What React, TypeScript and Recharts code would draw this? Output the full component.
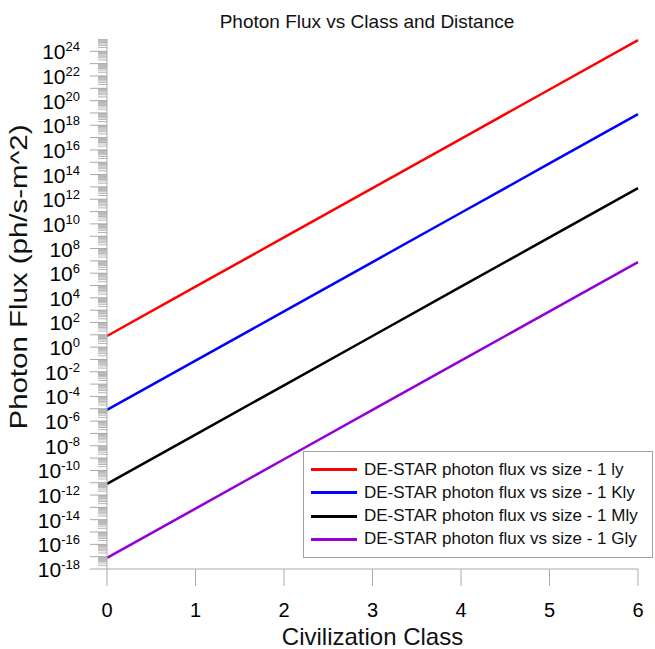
import React from 'react';
import { LineChart, Line, XAxis, YAxis, Legend } from 'recharts';

// ---- data ----
const classes = [0, 1, 2, 3, 4, 5, 6];
const flux1ly = [8e0, 8e4, 8e8, 8e12, 8e16, 8e20, 8e24];
const flux1Kly = [8e-6, 8e-2, 8e2, 8e6, 8e10, 8e14, 8e18];
const flux1Mly = [8e-12, 8e-8, 8e-4, 8e0, 8e4, 8e8, 8e12];
const flux1Gly = [8e-18, 8e-14, 8e-10, 8e-6, 8e-2, 8e2, 8e6];

const seriesKeys = ['ly', 'Kly', 'Mly', 'Gly'];
const seriesNames = [
  'DE-STAR photon flux vs size - 1 ly',
  'DE-STAR photon flux vs size - 1 Kly',
  'DE-STAR photon flux vs size - 1 Mly',
  'DE-STAR photon flux vs size - 1 Gly',
];
const seriesColors = ['#ff0000', '#0000ff', '#000000', '#9400d3'];

const labeledExponents = [-18, -16, -14, -12, -10, -8, -6, -4, -2, 0, 2, 4, 6, 8, 10, 12, 14, 16, 18, 20, 22, 24];
const decadeExponents = [-18, -17, -16, -15, -14, -13, -12, -11, -10, -9, -8, -7, -6, -5, -4, -3, -2, -1, 0, 1, 2, 3, 4, 5, 6, 7, 8, 9, 10, 11, 12, 13, 14, 15, 16, 17, 18, 19, 20, 21, 22, 23, 24];
const minorMultipliers = [2, 3, 4, 5, 6, 7, 8, 9];
const xTicks = [0, 1, 2, 3, 4, 5, 6];
const yDomain = [1e-18, 1e25];

const FONT = '"Liberation Sans", Arial, sans-serif';

const tableData = classes.map((c, i) => ({
  cls: c,
  ly: flux1ly[i],
  Kly: flux1Kly[i],
  Mly: flux1Mly[i],
  Gly: flux1Gly[i],
}));

type TickInfo = { kind: 'major' | 'minor'; exp: number; label: boolean };
const tickInfo = new Map<number, TickInfo>();
const yTicks: number[] = [];
decadeExponents.forEach((k) => {
  const v = Number(`1e${k}`);
  yTicks.push(v);
  tickInfo.set(v, { kind: 'major', exp: k, label: labeledExponents.includes(k) });
  minorMultipliers.forEach((m) => {
    const mv = Number(`${m}e${k}`);
    yTicks.push(mv);
    tickInfo.set(mv, { kind: 'minor', exp: k, label: false });
  });
});

const YTick = (props: any) => {
  const { x, y, payload } = props;
  const info = tickInfo.get(payload.value);
  if (!info) return null;
  if (info.kind === 'minor') {
    return <line x1={x - 9} x2={x} y1={y} y2={y} stroke="#b4b4b4" strokeWidth={1} />;
  }
  return (
    <g>
      <line x1={x - 17} x2={x} y1={y} y2={y} stroke="#a8a8a8" strokeWidth={1} />
      {info.label && (
        <text x={x - 27} y={y + 8} textAnchor="end" fill="#000" fontFamily={FONT}>
          <tspan fontSize={21}>10</tspan>
          <tspan fontSize={13} dy={-8}>{String(info.exp)}</tspan>
        </text>
      )}
    </g>
  );
};

const LegendBox = () => (
  <div
    style={{
      position: 'relative',
      boxSizing: 'border-box',
      width: 350,
      height: 107,
      border: '1px solid #a0a0a0',
      background: '#fff',
      fontFamily: FONT,
      fontSize: 17,
      color: '#111',
    }}
  >
    {seriesNames.map((name, i) => (
      <div
        key={name}
        style={{
          position: 'absolute',
          left: 0,
          top: 5.5 + i * 23.3,
          height: 23.3,
          lineHeight: '23.3px',
          width: '100%',
          whiteSpace: 'nowrap',
        }}
      >
        <div
          style={{
            position: 'absolute',
            left: 7,
            top: 10.5,
            width: 46,
            height: 3,
            background: seriesColors[i],
          }}
        />
        <span style={{ position: 'absolute', left: 60 }}>{name}</span>
      </div>
    ))}
  </div>
);

export default function App() {
  return (
    <div style={{ position: 'absolute', left: 0, top: 0, width: 655, height: 649, background: '#fff' }}>
      <div
        style={{
          position: 'absolute',
          left: 167,
          width: 400,
          top: 12,
          textAlign: 'center',
          fontFamily: FONT,
          fontSize: 19,
          lineHeight: '19px',
          color: '#111',
          whiteSpace: 'nowrap',
          zIndex: 2,
        }}
      >
        Photon Flux vs Class and Distance
      </div>
      <LineChart
        width={655}
        height={649}
        data={tableData}
        margin={{ top: 39, right: 17, left: 0, bottom: 0 }}
      >
        <XAxis
          dataKey="cls"
          type="number"
          domain={[0, 6]}
          ticks={xTicks}
          interval={0}
          height={80}
          tickSize={17}
          tickMargin={17}
          stroke="#aaaaaa"
          tickLine={{ stroke: '#aaaaaa' }}
          tick={{ fill: '#000', fontSize: 20, fontFamily: FONT }}
          label={{
            content: (p: any) => {
              const vb = p.viewBox || { x: 107, y: 569, width: 531, height: 80 };
              return (
                <text
                  x={vb.x + vb.width / 2}
                  y={vb.y + 76}
                  textAnchor="middle"
                  fontSize={24}
                  fontFamily={FONT}
                  fill="#111"
                >
                  Civilization Class
                </text>
              );
            },
          }}
        />
        <YAxis
          type="number"
          scale="log"
          domain={yDomain}
          allowDataOverflow
          ticks={yTicks}
          interval={0}
          width={107}
          tickSize={0}
          tickMargin={0}
          tickLine={false}
          axisLine={{ stroke: '#aaaaaa' }}
          tick={YTick}
          label={{
            content: (p: any) => {
              const vb = p.viewBox || { x: 0, y: 39, width: 107, height: 530 };
              const cx = vb.x + 27;
              const cy = vb.y + vb.height / 2 - 27;
              return (
                <text
                  x={cx}
                  y={cy}
                  transform={`rotate(-90, ${cx}, ${cy})`}
                  textAnchor="middle"
                  fontSize={23}
                  fontFamily={FONT}
                  fill="#111"
                  textLength={305}
                  lengthAdjust="spacingAndGlyphs"
                >
                  Photon Flux (ph/s-m^2)
                </text>
              );
            },
          }}
        />
        <Legend
          layout="horizontal"
          verticalAlign="middle"
          align="center"
          wrapperStyle={{ left: 303, top: 451, width: 350, height: 107 }}
          content={() => <LegendBox />}
        />
        {seriesKeys.map((k, i) => (
          <Line
            key={k}
            type="linear"
            dataKey={k}
            name={seriesNames[i]}
            stroke={seriesColors[i]}
            strokeWidth={2.5}
            dot={false}
            activeDot={false}
            isAnimationActive={false}
          />
        ))}
      </LineChart>
    </div>
  );
}
